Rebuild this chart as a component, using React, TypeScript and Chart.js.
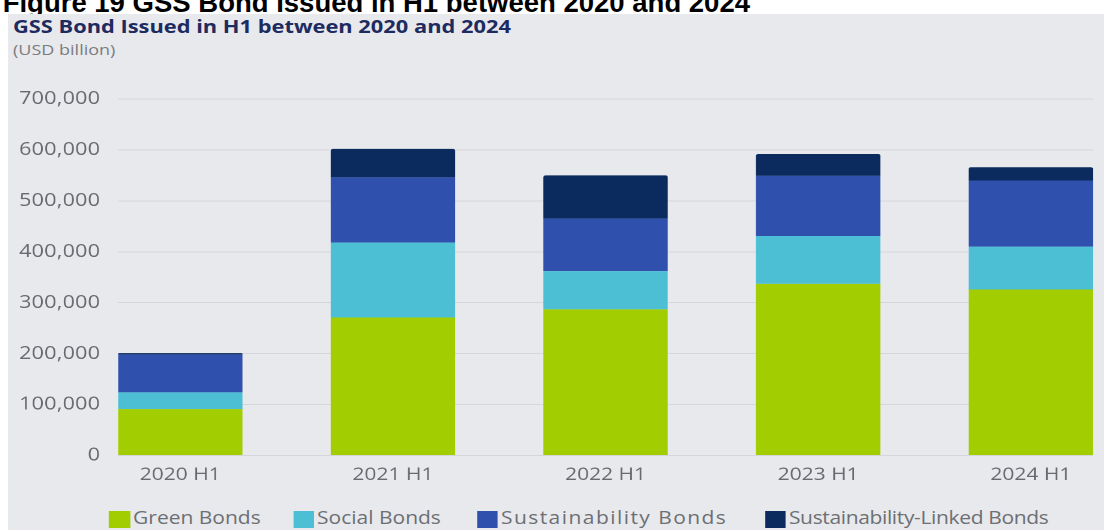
import React, { useEffect, useRef } from "react";
import { Chart, registerables } from "chart.js";

Chart.register(...registerables);

// ---------- data ----------
const categories = ["2020 H1", "2021 H1", "2022 H1", "2023 H1", "2024 H1"];
const greenBonds = [91000, 271000, 287000, 337000, 326000];
const socialBonds = [33000, 147000, 75000, 94000, 84000];
const sustainabilityBonds = [74000, 128000, 103000, 118000, 130000];
const sustainabilityLinkedBonds = [3000, 56000, 85000, 43000, 26000];
const seriesNames = ["Green Bonds", "Social Bonds", "Sustainability Bonds", "Sustainability-Linked Bonds"];
const yTickValues = [0, 100000, 200000, 300000, 400000, 500000, 600000, 700000];

const figureCaption = "Figure 19 GSS Bond Issued in H1 between 2020 and 2024";
const chartTitle = "GSS Bond Issued in H1 between 2020 and 2024";
const chartSubtitle = "(USD billion)";

// ---------- styles ----------
const COLORS = ["#a2cd00", "#4dbfd5", "#2f50ad", "#0b2a5e"];
const STRETCH = 1.2;
const PANEL_W = 1096 / STRETCH;
const BAR_FRAC = 0.585;
const FONT = "'Open Sans', 'DejaVu Sans', sans-serif";
const TICK_COLOR = "#676a6e";
const LEGEND_LEFTS = [84.2, 237.5, 390.8, 630.8];
const LEGEND_SPACING = [0, 0, 1.2, -0.3];
const Y_LABEL_TARGET_W = 67.5; // width of "700,000" in panel units

const yLabelPlugin = {
  id: "yLabels",
  afterDraw(chart: any) {
    const { ctx, chartArea, scales } = chart;
    const y = scales.y;
    ctx.save();
    ctx.font = `18px ${FONT}`;
    ctx.fillStyle = TICK_COLOR;
    ctx.textAlign = "right";
    ctx.textBaseline = "middle";
    const sample = (700000).toLocaleString("en-US");
    const natural = ctx.measureText(sample).width;
    const spacing = Math.max(0, (Y_LABEL_TARGET_W - natural) / (sample.length - 1));
    (ctx as any).letterSpacing = `${spacing}px`;
    yTickValues.forEach((v) => {
      ctx.fillText(v.toLocaleString("en-US"), chartArea.left - 15 + spacing, y.getPixelForValue(v));
    });
    ctx.restore();
  },
};

export default function App() {
  const canvasRef = useRef<HTMLCanvasElement>(null);

  useEffect(() => {
    const seriesData = [greenBonds, socialBonds, sustainabilityBonds, sustainabilityLinkedBonds];
    const datasets = seriesData.map((arr, si) => ({
      label: seriesNames[si],
      data: arr.map((y, i) => ({ x: i, y })),
      backgroundColor: COLORS[si],
      borderWidth: 0,
      borderRadius: si === seriesData.length - 1 ? { topLeft: 2, topRight: 2, bottomLeft: 0, bottomRight: 0 } : 0,
      borderSkipped: false as any,
      categoryPercentage: 1,
      barPercentage: BAR_FRAC,
    }));

    const chart = new Chart(canvasRef.current!, {
      type: "bar",
      data: { datasets: datasets as any },
      plugins: [yLabelPlugin],
      options: {
        animation: false,
        responsive: true,
        maintainAspectRatio: false,
        devicePixelRatio: 2,
        layout: { padding: { top: 15, right: 9.1, bottom: 0, left: 0 } },
        plugins: {
          legend: { display: false },
          title: { display: false },
          tooltip: { enabled: false },
        },
        scales: {
          x: {
            type: "linear",
            stacked: true,
            offset: false,
            min: -BAR_FRAC / 2,
            max: categories.length - 1 + BAR_FRAC / 2,
            grid: { display: false, drawTicks: false, offset: false },
            border: { display: false },
            afterBuildTicks: (axis: any) => {
              axis.ticks = categories.map((_, i) => ({ value: i }));
            },
            afterFit: (axis: any) => {
              axis.height = 38.5;
            },
            ticks: {
              autoSkip: false,
              maxRotation: 0,
              padding: 9,
              color: TICK_COLOR,
              font: { family: FONT, size: 17.5 },
              callback: (v: any) => categories[Math.round(Number(v))] ?? "",
            },
          },
          y: {
            stacked: true,
            min: 0,
            max: 700000,
            afterBuildTicks: (axis: any) => {
              axis.ticks = yTickValues.map((v) => ({ value: v }));
            },
            afterFit: (axis: any) => {
              axis.width = 91.7;
            },
            grid: { color: "#d4d6db", lineWidth: 1, drawTicks: false },
            border: { display: false },
            ticks: { display: false },
          },
        },
      },
    });
    return () => chart.destroy();
  }, []);

  return (
    <div
      style={{
        position: "fixed",
        left: 0,
        top: 0,
        width: 1104,
        height: 530,
        overflow: "hidden",
        background: "#ffffff",
      }}
    >
      <div
        style={{
          position: "absolute",
          right: 354,
          top: -10.6,
          fontFamily: "'Liberation Sans', Arial, sans-serif",
          fontWeight: 700,
          fontSize: 27.5,
          lineHeight: "27.5px",
          whiteSpace: "nowrap",
          color: "#000",
        }}
      >
        {figureCaption}
      </div>
      <div
        style={{
          position: "absolute",
          left: 8,
          top: 14,
          width: PANEL_W,
          height: 516,
          background: "#e8e9ed",
          transform: `scaleX(${STRETCH})`,
          transformOrigin: "0 0",
          fontFamily: FONT,
        }}
      >
        <div
          style={{
            position: "absolute",
            left: 4.2,
            top: 3.4,
            fontSize: 18.2,
            lineHeight: "18.2px",
            fontWeight: 700,
            color: "#1d2b5f",
            whiteSpace: "nowrap",
          }}
        >
          {chartTitle}
        </div>
        <div
          style={{
            position: "absolute",
            left: 4.2,
            top: 27.6,
            fontSize: 15,
            lineHeight: "15px",
            color: "#7a7c80",
            whiteSpace: "nowrap",
          }}
        >
          {chartSubtitle}
        </div>
        <div style={{ position: "absolute", left: 0, top: 70, width: PANEL_W, height: 410 }}>
          <canvas ref={canvasRef} />
        </div>
        {seriesNames.map((name, i) => (
          <div
            key={name}
            style={{
              position: "absolute",
              left: LEGEND_LEFTS[i],
              top: 497,
              height: 16.5,
              display: "flex",
              alignItems: "center",
              whiteSpace: "nowrap",
            }}
          >
            <div style={{ width: 17.5, height: 16.5, background: COLORS[i], marginRight: 2.5 }} />
            <span
              style={{
                fontSize: 17.5,
                lineHeight: "16.5px",
                color: "#6d6f73",
                position: "relative",
                top: -1.7,
                letterSpacing: `${LEGEND_SPACING[i]}px`,
              }}
            >
              {name}
            </span>
          </div>
        ))}
      </div>
    </div>
  );
}
